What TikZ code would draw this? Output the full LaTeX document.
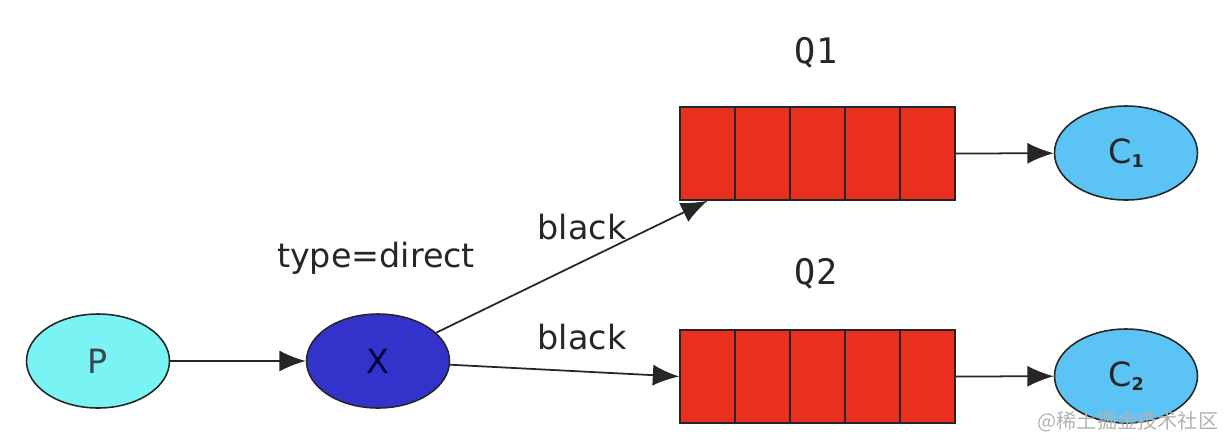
\documentclass[tikz,border=0pt]{standalone}
\usepackage{fontspec}
\setmainfont{DejaVu Sans}
\setmonofont{DejaVu Sans Mono}
\newfontfamily\cjk{Noto Sans CJK SC}
\usepackage{tikz}
\usetikzlibrary{arrows.meta,shapes.geometric}
\definecolor{prodCyan}{RGB}{122,243,245}
\definecolor{exchBlue}{RGB}{51,51,204}
\definecolor{queueRed}{RGB}{233,48,32}
\definecolor{consBlue}{RGB}{92,196,245}
\newcommand{\consIndex}[1]{\raisebox{-0.25ex}{\fontsize{10}{12}\selectfont\bfseries #1}}
\begin{document}
\begin{tikzpicture}
[x=0.02cm,y=-0.02cm,
every node/.style={font=\fontsize{19}{23}\selectfont},
actor/.style={ellipse,draw=black!85,line width=0.9pt,minimum width=2.86cm,minimum height=1.88cm,inner sep=0pt},
producer/.style={actor,fill=prodCyan,text=black!80!cyan},
exchange/.style={actor,fill=exchBlue,text=black!75!blue},
consumer/.style={actor,fill=consBlue,text=black!85},
cell/.style={rectangle,draw=black!85,line width=0.9pt,fill=queueRed,minimum width=1.1cm,minimum height=1.86cm,inner sep=0pt},
queueLabel/.style={font=\ttfamily\fontsize{20}{24}\selectfont,text=black!85},
edgeLabel/.style={text=black!85},
edge/.style={line width=1pt,black!85},
rightEnd/.style={->,>={Latex[length=15pt,width=12pt]}}]
\useasboundingbox (0,0) rectangle (1224,444);
\node[producer] (p) at (98,361) {P};
\node[exchange] (x) at (378,361) {X};
\node[cell] (q11) at (707.5,153.5) {};
\node[cell] (q12) at (762.5,153.5) {};
\node[cell] (q13) at (817.5,153.5) {};
\node[cell] (q14) at (872.5,153.5) {};
\node[cell] (q15) at (927.5,153.5) {};
\node[cell] (q21) at (707.5,376.5) {};
\node[cell] (q22) at (762.5,376.5) {};
\node[cell] (q23) at (817.5,376.5) {};
\node[cell] (q24) at (872.5,376.5) {};
\node[cell] (q25) at (927.5,376.5) {};
\node[consumer] (c1) at (1126,153) {C\consIndex{1}};
\node[consumer] (c2) at (1126,376) {C\consIndex{2}};
\node[queueLabel] (q1Label) at (816,53) {Q1};
\node[queueLabel] (q2Label) at (816,274) {Q2};
\node[edgeLabel] (typeLabel) at (376,258) {type=direct};
\node[edgeLabel] (blackTop) at (582,227) {black};
\node[edgeLabel] (blackBottom) at (582,337) {black};
\draw[edge,rightEnd](p) -- (x) ;
\draw[edge,rightEnd](x) -- (q11.south) ;
\draw[edge,rightEnd](x) -- (q21.west) ;
\draw[edge,rightEnd](q15.east) -- (c1) ;
\draw[edge,rightEnd](q25.east) -- (c2) ;
\node[font=\cjk\fontsize{11.5}{14}\selectfont,text=black!30] (mark) at (1128,422) {@稀土掘金技术社区};
\end{tikzpicture}
\end{document}
